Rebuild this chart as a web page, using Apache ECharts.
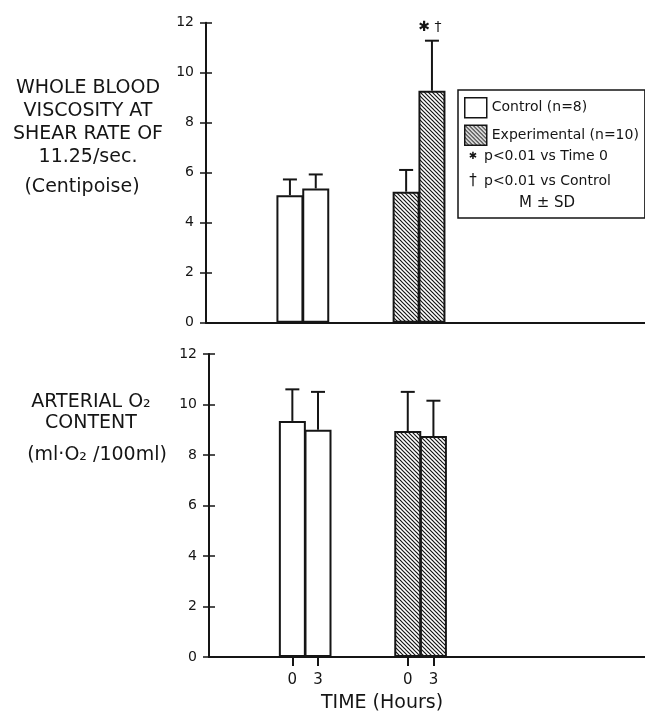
<!DOCTYPE html>
<html>
<head>
<meta charset="utf-8">
<script src="https://cdn.jsdelivr.net/npm/echarts@6/dist/echarts.min.js"></script>
<style>
html, body { margin: 0; padding: 0; background: #fff; }
#container { width: 645px; height: 714px; }
</style>
</head>
<body>
<div id="container"></div>
<script>
// values
var timeLabels = ['0', '3'];
var viscControl = [5.1, 5.37];
var viscControlSD = [0.63, 0.56];
var viscExp = [5.24, 9.28];
var viscExpSD = [0.87, 2.0];
var viscExpMarks = ['', '\u2731 \u2020'];
var o2Control = [9.35, 9.0];
var o2ControlSD = [1.25, 1.5];
var o2Exp = [8.95, 8.75];
var o2ExpSD = [1.55, 1.4];

// layout: the x axis is cut into narrow slots, bars sit on some of them
var SLOT_COUNT = 34;
var controlSlots = [6, 8];
var expSlots = [15, 17];

var INK = '#151515';
var FONT = 'DejaVu Sans';

var cats = [];
for (var i = 0; i < SLOT_COUNT; i++) cats.push('');
for (var j = 0; j < timeLabels.length; j++) {
	cats[controlSlots[j]] = timeLabels[j];
	cats[expSlots[j]] = timeLabels[j];
}

function slotData(slots, values) {
	var d = [];
	for (var i = 0; i < SLOT_COUNT; i++) d.push('-');
	for (var j = 0; j < slots.length; j++) d[slots[j]] = values[j];
	return d;
}
function errData(slots, means, sds) {
	var d = [];
	for (var j = 0; j < slots.length; j++) d.push([slots[j], means[j], sds[j]]);
	return d;
}

// diagonal hatch for the experimental bars
function hatch() {
	var s = 4;
	var c = document.createElement('canvas');
	c.width = s; c.height = s;
	var ctx = c.getContext('2d');
	ctx.fillStyle = '#fff';
	ctx.fillRect(0, 0, s, s);
	ctx.strokeStyle = INK;
	ctx.lineWidth = 1.2;
	for (var k = -1; k <= 1; k++) {
		ctx.beginPath();
		ctx.moveTo(-1, -1 + k * s);
		ctx.lineTo(s + 1, s + 1 + k * s);
		ctx.stroke();
	}
	return c;
}
var hatchFill = { image: hatch(), repeat: 'repeat' };

function makeErr(marks) {
	return function (params, api) {
		var x = api.value(0), m = api.value(1), sd = api.value(2);
		var p0 = api.coord([x, m]);
		var p1 = api.coord([x, m + sd]);
		var kids = [
			{ type: 'line', shape: { x1: p0[0], y1: p0[1], x2: p1[0], y2: p1[1] }, style: { stroke: INK, lineWidth: 2 } },
			{ type: 'line', shape: { x1: p1[0] - 7, y1: p1[1], x2: p1[0] + 7, y2: p1[1] }, style: { stroke: INK, lineWidth: 2 } }
		];
		var mark = marks ? marks[params.dataIndex] : '';
		if (mark) {
			kids.push({ type: 'text', x: p1[0] - 2, y: p1[1] - 13,
				style: { text: mark, align: 'center', verticalAlign: 'middle', fontSize: 14, fontFamily: FONT, fill: INK } });
		}
		return { type: 'group', children: kids };
	};
}

function yMain(grid) {
	return {
		type: 'value', gridIndex: grid, min: 0, max: 12, interval: 2, position: 'left',
		axisLine: { show: true, lineStyle: { color: INK, width: 2 } },
		axisTick: { show: true, length: 6, lineStyle: { color: INK, width: 1.5 } },
		axisLabel: { color: INK, fontSize: 14, fontFamily: FONT, margin: 12 },
		splitLine: { show: false }
	};
}
function yInner(grid) {
	return {
		type: 'value', gridIndex: grid, min: 0, max: 12, interval: 2, position: 'left',
		axisLine: { show: false },
		axisTick: { show: true, inside: true, length: 6, lineStyle: { color: INK, width: 1.5 } },
		axisLabel: { show: false },
		splitLine: { show: false }
	};
}

var barStyleCtrl = { color: '#fff', borderColor: INK, borderWidth: 2 };
var barStyleExp = { color: hatchFill, borderColor: INK, borderWidth: 2 };

function txt(x, y, text, size, align, lh) {
	return { type: 'text', x: x, y: y,
		style: { text: text, fontSize: size, fontFamily: FONT, fill: INK, align: align || 'center',
			verticalAlign: 'middle', lineHeight: lh || size + 4 } };
}

var option = {
	backgroundColor: '#fff',
	animation: false,
	grid: [
		{ left: 206, top: 22.7, height: 300, right: -3 },
		{ left: 209, top: 354, height: 303, right: -6 }
	],
	xAxis: [
		{ type: 'category', gridIndex: 0, data: cats,
			axisLine: { lineStyle: { color: INK, width: 2 } },
			axisTick: { show: false }, axisLabel: { show: false } },
		{ type: 'category', gridIndex: 1, data: cats,
			axisLine: { lineStyle: { color: INK, width: 2 } },
			axisTick: { show: true, alignWithLabel: true, length: 9, lineStyle: { color: INK, width: 2 },
				interval: function (idx, val) { return val !== ''; } },
			axisLabel: { interval: 0, color: INK, fontSize: 15, fontFamily: FONT, margin: 16 } }
	],
	yAxis: [yMain(0), yInner(0), yMain(1), yInner(1)],
	legend: {
		data: ['Control (n=8)', 'Experimental (n=10)'],
		orient: 'vertical', left: 458, top: 90,
		itemWidth: 22, itemHeight: 20, itemGap: 6,
		padding: [7, 6, 72, 6],
		borderColor: INK, borderWidth: 1.5,
		selectedMode: false, icon: 'rect',
		itemStyle: { borderColor: INK, borderWidth: 1.5 },
		textStyle: { color: INK, fontSize: 14, fontFamily: FONT }
	},
	graphic: [
		txt(88, 122.5, 'WHOLE BLOOD\nVISCOSITY AT\nSHEAR RATE OF\n11.25/sec.', 19, 'center', 23),
		txt(82, 187, '(Centipoise)', 19),
		txt(91, 412.5, 'ARTERIAL O\u2082\nCONTENT', 19, 'center', 21),
		txt(97, 455, '(ml\u00b7O\u2082 /100ml)', 19),
		txt(382, 703, 'TIME (Hours)', 19),
		txt(473, 156, '\u2731', 10),
		txt(484, 156, 'p<0.01 vs Time 0', 14, 'left'),
		txt(473, 181, '\u2020', 15),
		txt(484, 181, 'p<0.01 vs Control', 14, 'left'),
		txt(547, 203, 'M \u00b1 SD', 15)
	],
	series: [
		{ name: 'Control (n=8)', type: 'bar', xAxisIndex: 0, yAxisIndex: 0, barWidth: 27, barGap: '-100%',
			itemStyle: barStyleCtrl, data: slotData(controlSlots, viscControl) },
		{ name: 'Experimental (n=10)', type: 'bar', xAxisIndex: 0, yAxisIndex: 0, barWidth: 27, barGap: '-100%',
			itemStyle: barStyleExp, data: slotData(expSlots, viscExp) },
		{ name: 'visc ctrl sd', type: 'custom', xAxisIndex: 0, yAxisIndex: 0, z: 5,
			renderItem: makeErr(null), data: errData(controlSlots, viscControl, viscControlSD) },
		{ name: 'visc exp sd', type: 'custom', xAxisIndex: 0, yAxisIndex: 0, z: 5,
			renderItem: makeErr(viscExpMarks), data: errData(expSlots, viscExp, viscExpSD) },
		{ name: 'Control (n=8)', type: 'bar', xAxisIndex: 1, yAxisIndex: 2, barWidth: 27, barGap: '-100%',
			itemStyle: barStyleCtrl, data: slotData(controlSlots, o2Control) },
		{ name: 'Experimental (n=10)', type: 'bar', xAxisIndex: 1, yAxisIndex: 2, barWidth: 27, barGap: '-100%',
			itemStyle: barStyleExp, data: slotData(expSlots, o2Exp) },
		{ name: 'o2 ctrl sd', type: 'custom', xAxisIndex: 1, yAxisIndex: 2, z: 5,
			renderItem: makeErr(null), data: errData(controlSlots, o2Control, o2ControlSD) },
		{ name: 'o2 exp sd', type: 'custom', xAxisIndex: 1, yAxisIndex: 2, z: 5,
			renderItem: makeErr(null), data: errData(expSlots, o2Exp, o2ExpSD) }
	]
};

var chart = echarts.init(document.getElementById('container'), null, { renderer: 'canvas' });
chart.setOption(option);
</script>
</body>
</html>
